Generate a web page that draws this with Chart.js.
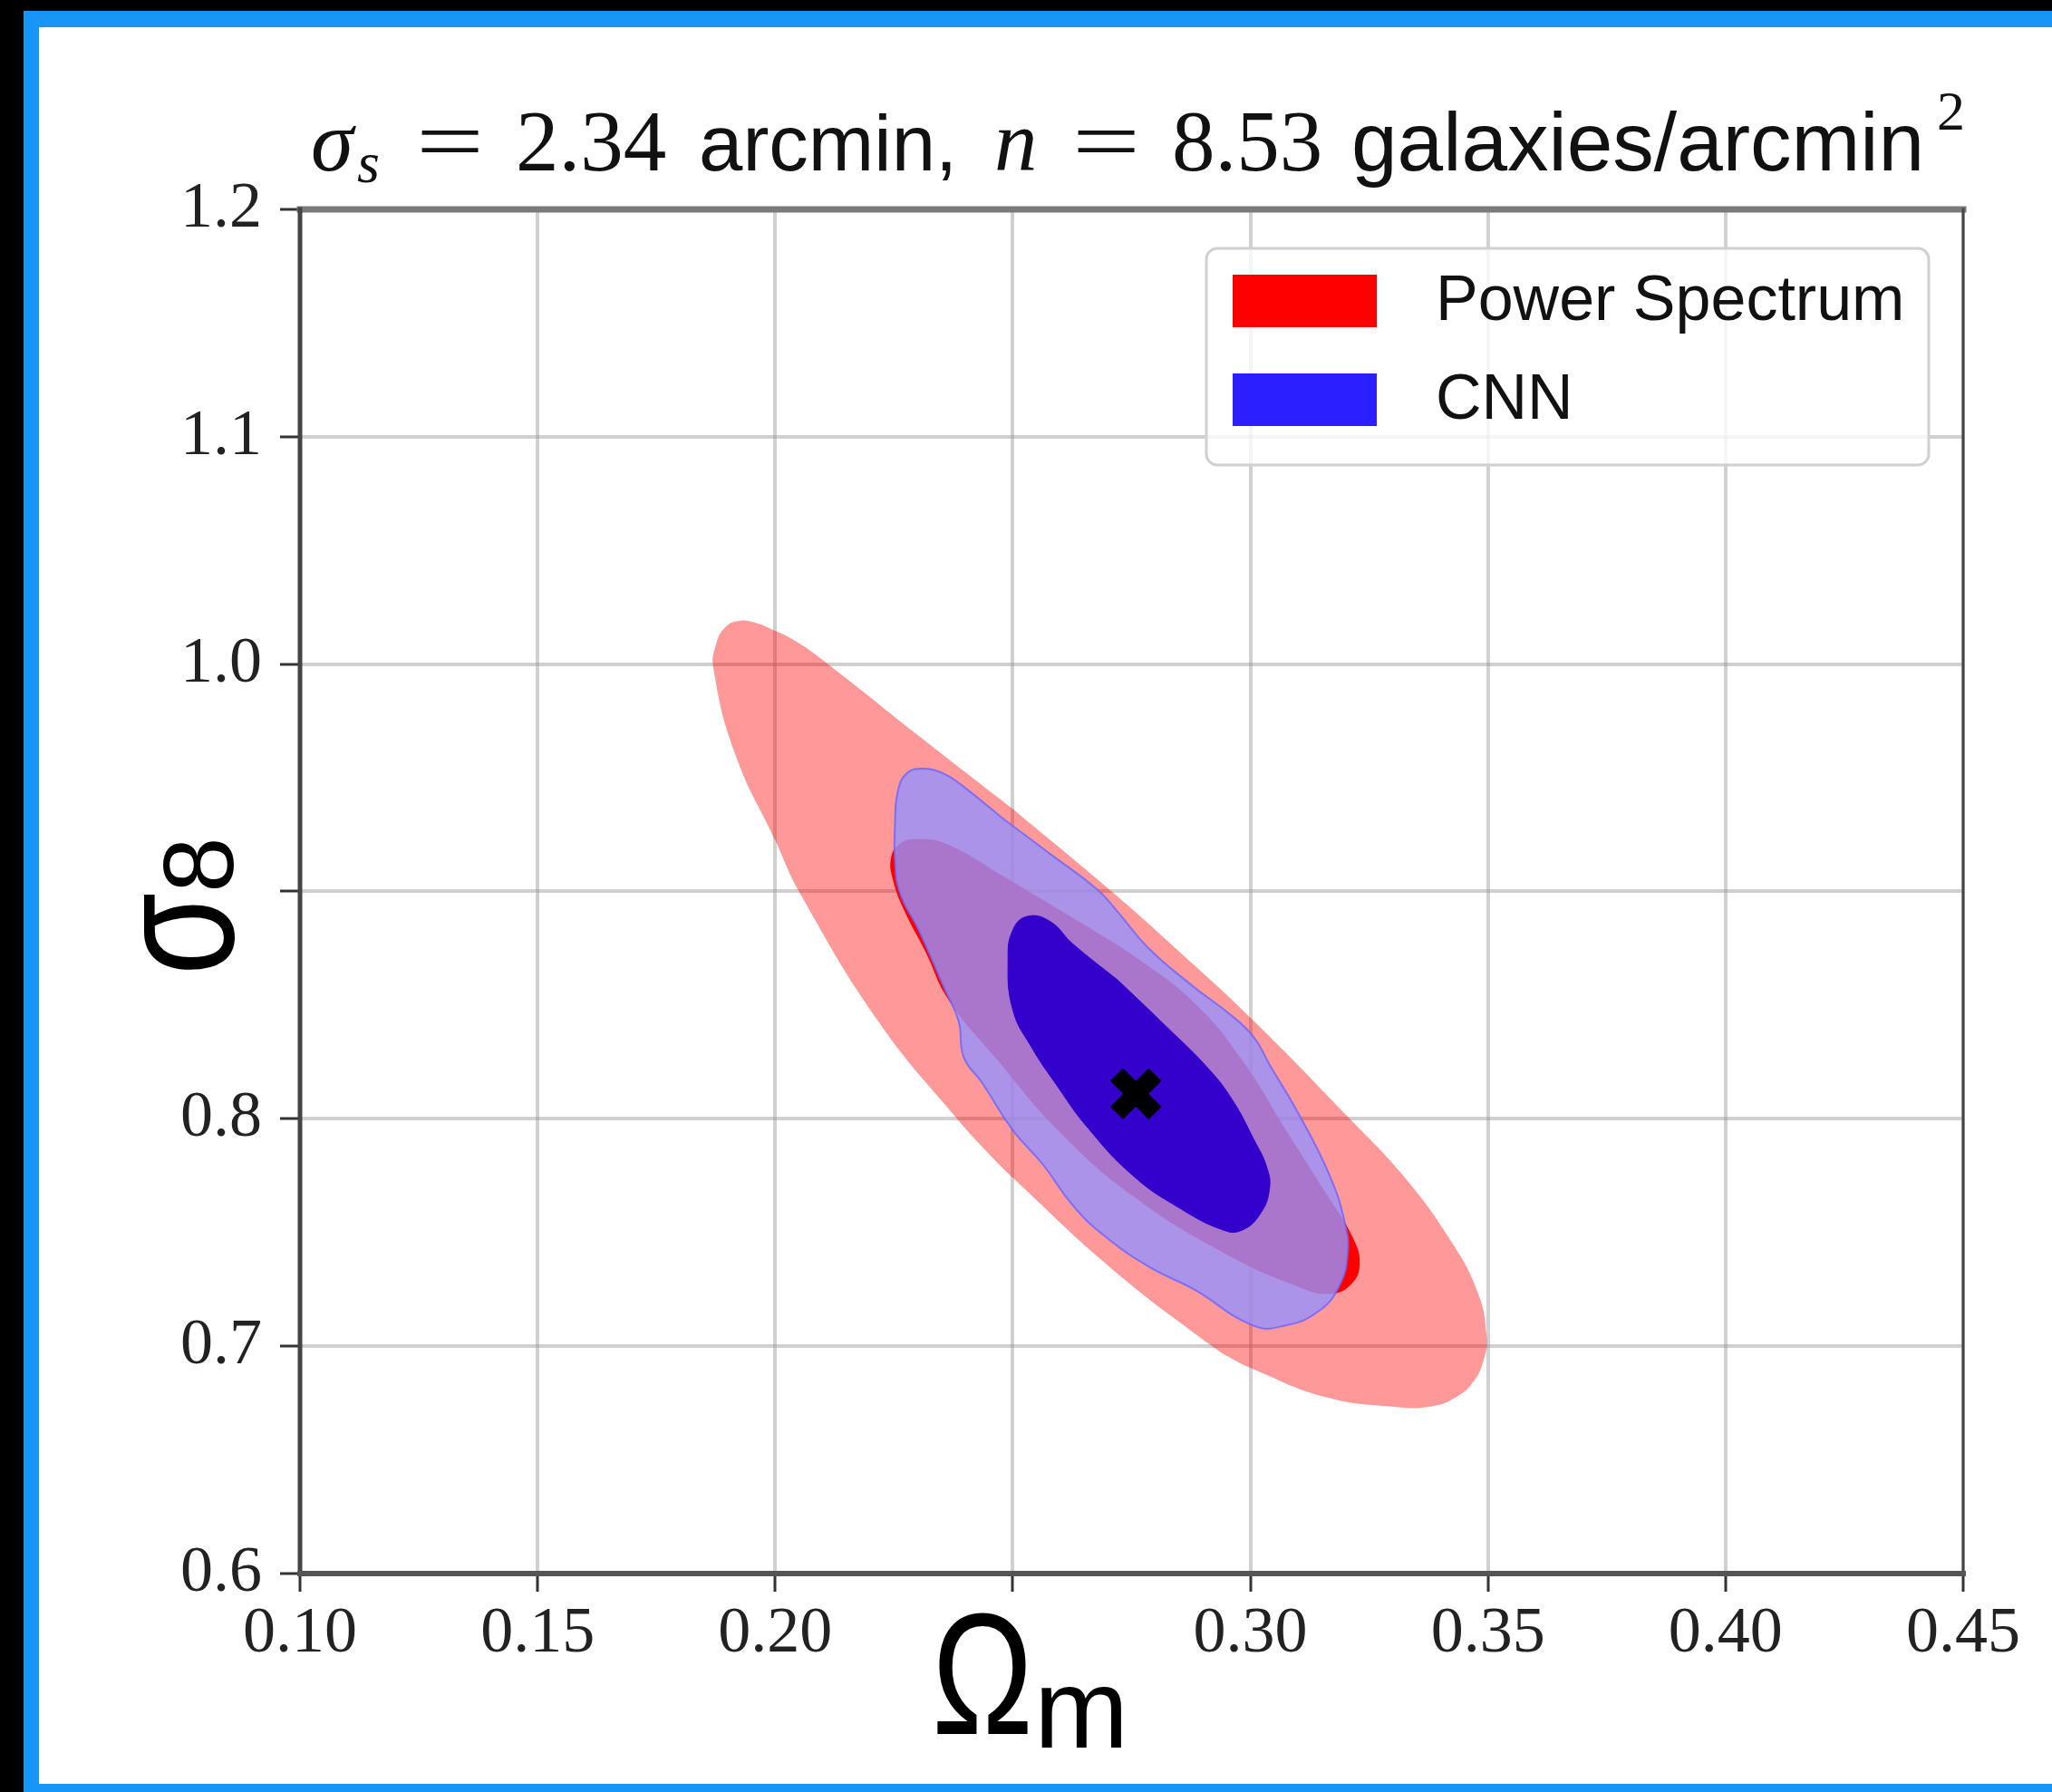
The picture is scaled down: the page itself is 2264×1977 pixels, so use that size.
<!DOCTYPE html>
<html>
<head>
<meta charset="utf-8">
<title>Omega_m - sigma_8 contours</title>
<script src="https://cdn.jsdelivr.net/npm/chart.js@4.4.1/dist/chart.umd.min.js"></script>
<style>
  body { margin: 0; width: 2264px; height: 1977px; background: #000; overflow: hidden; position: relative; }
  #frame { position: absolute; left: 26px; top: 12px; right: 0; bottom: 0; background: #1896f8; }
  #paper { position: absolute; left: 43px; top: 30px; width: 2221px; height: 1938px; background: #fff; }
  canvas { display: block; }
</style>
</head>
<body>
<div id="frame"></div>
<div id="paper"><canvas id="contours" width="2221" height="1938"></canvas></div>
<script>
// axis ticks (0.25 and 0.9 have no label)
const xTicks = [0.10, 0.15, 0.20, 0.25, 0.30, 0.35, 0.40, 0.45];
const xTickLabels = ['0.10', '0.15', '0.20', '', '0.30', '0.35', '0.40', '0.45'];
const yTicks = [0.6, 0.7, 0.8, 0.9, 1.0, 1.1, 1.2];
const yTickLabels = ['0.6', '0.7', '0.8', '', '1.0', '1.1', '1.2'];

const legendLabels = ['Power Spectrum', 'CNN'];
const legendColors = ['#ff0000', '#2b1fff'];

// fiducial cosmology [Omega_m, sigma_8]
const fiducial = [0.2759, 0.811];

// contour outlines, [Omega_m, sigma_8]
const psOuter = [
  [0.2502, 0.9360], [0.2712, 0.8993], [0.2849, 0.8738], [0.3003, 0.8439], [0.3211, 0.7996],
  [0.3325, 0.7741], [0.3421, 0.7466], [0.3478, 0.7239], [0.3497, 0.7047], [0.3491, 0.6940],
  [0.3468, 0.6840], [0.3430, 0.6772], [0.3383, 0.6736], [0.3310, 0.6732], [0.3158, 0.6776],
  [0.3005, 0.6900], [0.2963, 0.6943], [0.2921, 0.6998], [0.2712, 0.7334], [0.2502, 0.7737],
  [0.2443, 0.7861], [0.2386, 0.7992], [0.2219, 0.8423], [0.2052, 0.8993], [0.2000, 0.9225],
  [0.1916, 0.9603], [0.1870, 0.9982], [0.1876, 1.0090], [0.1895, 1.0162], [0.1924, 1.0190],
  [0.1958, 1.0182], [0.1996, 1.0150], [0.2042, 1.0102], [0.2105, 1.0010], [0.2303, 0.9683],
  [0.2502, 0.9360]
];
const psInner = [
  [0.2486, 0.906], [0.2645, 0.886], [0.2773, 0.869], [0.2887, 0.850], [0.2982, 0.826],
  [0.3078, 0.794], [0.3163, 0.766], [0.3215, 0.748], [0.3230, 0.736], [0.3211, 0.727],
  [0.3167, 0.723], [0.3102, 0.726], [0.2944, 0.741], [0.2753, 0.766], [0.2595, 0.795],
  [0.2467, 0.826], [0.2366, 0.852], [0.2315, 0.874], [0.2273, 0.891], [0.2248, 0.905],
  [0.2244, 0.915], [0.2263, 0.921], [0.2296, 0.923], [0.2359, 0.921], [0.2486, 0.906]
];
const cnnOuter = [
  [0.2486, 0.931], [0.2582, 0.916], [0.2677, 0.901], [0.2721, 0.891], [0.2786, 0.875],
  [0.2881, 0.858], [0.2957, 0.846], [0.3007, 0.836], [0.3040, 0.824], [0.3102, 0.802],
  [0.3167, 0.775], [0.3198, 0.755], [0.3205, 0.741], [0.3186, 0.726], [0.3141, 0.715],
  [0.3072, 0.709], [0.3007, 0.709], [0.2881, 0.725], [0.2786, 0.735], [0.2690, 0.749],
  [0.2626, 0.762], [0.2563, 0.780], [0.2500, 0.795], [0.2435, 0.816], [0.2397, 0.827],
  [0.2386, 0.843], [0.2359, 0.856], [0.2302, 0.883], [0.2263, 0.899], [0.2252, 0.913],
  [0.2252, 0.929], [0.2258, 0.944], [0.2277, 0.952], [0.2309, 0.954], [0.2353, 0.952],
  [0.2391, 0.947], [0.2486, 0.931]
];
const cnnInner = [
  [0.2721, 0.861], [0.2816, 0.842], [0.2912, 0.822], [0.2963, 0.808], [0.3007, 0.791],
  [0.3034, 0.779], [0.3040, 0.769], [0.3020, 0.758], [0.2982, 0.751], [0.2944, 0.751],
  [0.2849, 0.761], [0.2753, 0.775], [0.2658, 0.796], [0.2595, 0.814], [0.2538, 0.832],
  [0.2500, 0.848], [0.2490, 0.870], [0.2500, 0.883], [0.2530, 0.889], [0.2577, 0.887],
  [0.2626, 0.877], [0.2721, 0.861]
];

const SERIF = '"Liberation Serif", "DejaVu Serif", serif';
const SANS = '"Liberation Sans", Arial, sans-serif';

const toPoints = arr => arr.map(([x, y]) => ({x, y}));

function contour(label, pts, fillColor, lineColor, lineWidth, order) {
  return {
    label: label,
    data: toPoints(pts),
    showLine: true,
    fill: 'shape',
    tension: 0.45,
    backgroundColor: fillColor,
    borderColor: lineColor,
    borderWidth: lineWidth,
    pointRadius: 0,
    order: order
  };
}

// title pieces: offset from the left spine, baseline shift, horizontal stretch
const titleParts = [
  {text: 'σ', font: `italic 95px ${SERIF}`, x: 12, dy: 0},
  {text: 's', font: `italic 64px ${SERIF}`, x: 63, dy: 13},
  {text: '=', font: `95px ${SERIF}`, x: 128, dy: 0, sx: 1.4},
  {text: '2.34', font: `95px ${SERIF}`, x: 238, dy: 0},
  {text: 'arcmin,', font: `87px ${SANS}`, x: 440, dy: 0},
  {text: 'n', font: `italic 95px ${SERIF}`, x: 766, dy: 0},
  {text: '=', font: `95px ${SERIF}`, x: 852, dy: 0, sx: 1.4},
  {text: '8.53', font: `95px ${SERIF}`, x: 962, dy: 0},
  {text: 'galaxies/arcmin', font: `91px ${SANS}`, x: 1160, dy: 0},
  {text: '2', font: `62px ${SERIF}`, x: 1806, dy: -45}
];

const decorations = {
  id: 'decorations',
  afterDraw(chart) {
    const ctx = chart.ctx;
    const a = chart.chartArea;
    ctx.save();

    // spines
    ctx.lineCap = 'square';
    ctx.strokeStyle = '#7a7a7a';
    ctx.lineWidth = 7;
    ctx.beginPath(); ctx.moveTo(a.left, a.top); ctx.lineTo(a.right, a.top); ctx.stroke();
    ctx.strokeStyle = '#444';
    ctx.lineWidth = 3;
    ctx.beginPath(); ctx.moveTo(a.right, a.top); ctx.lineTo(a.right, a.bottom); ctx.stroke();
    ctx.lineWidth = 5;
    ctx.beginPath(); ctx.moveTo(a.left, a.top); ctx.lineTo(a.left, a.bottom); ctx.stroke();
    ctx.strokeStyle = '#555';
    ctx.lineWidth = 6;
    ctx.beginPath(); ctx.moveTo(a.left, a.bottom); ctx.lineTo(a.right, a.bottom); ctx.stroke();

    // title
    ctx.fillStyle = '#111';
    ctx.textBaseline = 'alphabetic';
    ctx.textAlign = 'left';
    titleParts.forEach(p => {
      ctx.save();
      ctx.font = p.font;
      ctx.translate(a.left + p.x, 158 + p.dy);
      ctx.scale(p.sx || 1, 1);
      ctx.fillText(p.text, 0, 0);
      ctx.restore();
    });

    // x axis label
    ctx.fillStyle = '#000';
    ctx.save();
    ctx.translate(985, 1883);
    ctx.scale(0.78, 1);
    ctx.font = `192px ${SANS}`;
    ctx.fillText('Ω', 0, 0);
    ctx.restore();
    ctx.font = `125px ${SANS}`;
    ctx.fillText('m', 1098, 1898);

    // y axis label, read bottom to top
    ctx.save();
    ctx.translate(214, 1046);
    ctx.rotate(-Math.PI / 2);
    ctx.save();
    ctx.scale(0.8, 1);
    ctx.font = `185px ${SANS}`;
    ctx.fillText('σ', 0, 0);
    const sw = ctx.measureText('σ').width * 0.8;
    ctx.restore();
    ctx.font = `110px ${SANS}`;
    ctx.fillText('8', sw, 0);
    ctx.restore();

    // legend
    const bx = 1288, by = 244, bw = 797, bh = 239;
    ctx.beginPath();
    ctx.roundRect(bx, by, bw, bh, 12);
    ctx.fillStyle = 'rgba(255,255,255,0.8)';
    ctx.fill();
    ctx.strokeStyle = '#d0d0d0';
    ctx.lineWidth = 3;
    ctx.stroke();
    legendLabels.forEach((label, i) => {
      const y = 273 + i * 109;
      ctx.fillStyle = legendColors[i];
      ctx.fillRect(1317, y, 159, 58);
      ctx.fillStyle = '#111';
      ctx.font = `70px ${SANS}`;
      ctx.textBaseline = 'middle';
      ctx.fillText(label, 1541, y + 31);
    });

    ctx.restore();
  }
};

const gridColor = 'rgba(150,150,150,0.45)';

new Chart(document.getElementById('contours'), {
  type: 'line',
  data: {
    datasets: [
      {
        label: 'fiducial',
        data: [{x: fiducial[0], y: fiducial[1]}],
        showLine: false,
        pointStyle: 'crossRot',
        pointRadius: 30,
        pointBorderWidth: 20,
        pointBorderColor: '#000',
        pointBackgroundColor: '#000',
        order: 0
      },
      contour('CNN 68%', cnnInner, '#3300cc', '#3300cc', 1, 1),
      contour('CNN 95%', cnnOuter, 'rgba(150,145,250,0.81)', 'rgba(105,100,255,0.8)', 2, 2),
      contour('Power Spectrum 68%', psInner, '#ff0000', 'rgba(0,0,0,0)', 1, 3),
      contour('Power Spectrum 95%', psOuter, 'rgba(255,0,0,0.4)', 'rgba(0,0,0,0)', 1, 4)
    ]
  },
  options: {
    responsive: false,
    animation: false,
    events: [],
    layout: { padding: { left: 0, top: 201, right: 98, bottom: 82 } },
    plugins: {
      legend: { display: false },
      tooltip: { enabled: false },
      title: { display: false }
    },
    scales: {
      x: {
        type: 'linear',
        min: 0.1,
        max: 0.45,
        z: 1,
        afterBuildTicks: s => { s.ticks = xTicks.map(v => ({value: v})); },
        afterFit: s => { s.height = 150; },
        border: { display: false },
        grid: { color: gridColor, lineWidth: 4, tickColor: '#333', tickWidth: 3, tickLength: 20 },
        ticks: {
          callback: (v, i) => xTickLabels[i],
          autoSkip: false,
          maxRotation: 0,
          padding: 4,
          color: '#222',
          font: { family: SERIF, size: 72 }
        }
      },
      y: {
        type: 'linear',
        min: 0.6,
        max: 1.2,
        z: 1,
        afterBuildTicks: s => { s.ticks = yTicks.map(v => ({value: v})); },
        afterFit: s => { s.width = 288; },
        border: { display: false },
        grid: { color: gridColor, lineWidth: 4, tickColor: '#333', tickWidth: 3, tickLength: 22 },
        ticks: {
          callback: (v, i) => yTickLabels[i],
          autoSkip: false,
          padding: 20,
          color: '#222',
          font: { family: SERIF, size: 72 }
        }
      }
    }
  },
  plugins: [decorations]
});
</script>
</body>
</html>
